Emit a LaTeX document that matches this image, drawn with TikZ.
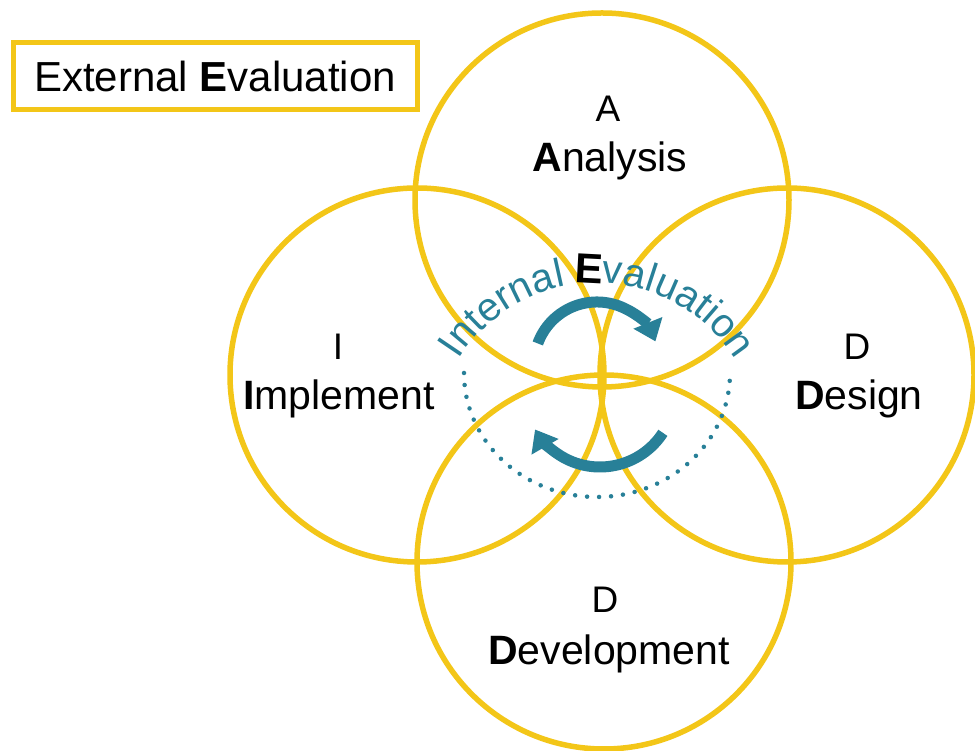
\documentclass[tikz,border=0pt]{standalone}
\usepackage{fontspec}
\setmainfont{Liberation Sans}
\usetikzlibrary{arrows.meta,decorations.text}
\definecolor{gold}{RGB}{243,198,24}
\definecolor{tealc}{RGB}{40,128,152}
\begin{document}
\begin{tikzpicture}[x=1pt,y=1pt,
  ring/.style={circle, draw=gold, line width=5.5pt, minimum size=374pt, inner sep=0pt},
  letter/.style={anchor=base, font=\fontsize{37}{44}\selectfont, inner sep=0pt},
  word/.style={anchor=base, font=\fontsize{41}{49}\selectfont, inner sep=0pt},
  cyc/.style={draw=tealc, line width=11pt, -{Triangle[length=20pt,width=30pt]}},
  dots/.style={draw=tealc, line width=4.5pt, line cap=round, dash pattern=on 0pt off 12pt}]
\useasboundingbox (0,0) rectangle (975,751);
\fill[white] (0,0) rectangle (975,751);
% four circles
\node[ring] (top) at (602,551) {};
\node[ring] (bot) at (604,189) {};
\node[ring] (lft) at (417,376) {};
\node[ring] (rgt) at (787,376) {};
% labels
\node[letter] (la) at (608,629) {A};
\node[word]   (wa) at (610,579) {\textbf{A}nalysis};
\node[letter] (li) at (338,391) {I};
\node[word]   (wi) at (339,341) {\textbf{I}mplement};
\node[letter] (lr) at (857,391) {D};
\node[word]   (wr) at (859,341) {\textbf{D}esign};
\node[letter] (lb) at (605,138) {D};
\node[word]   (wb) at (609,86) {\textbf{D}evelopment};
% external evaluation box
\node[draw=gold, line width=5pt, minimum width=404pt, minimum height=67pt, inner sep=0pt,
      font=\fontsize{42}{50}\selectfont] (ext) at (215,674.5) {External \textbf{E}valuation};
% internal evaluation
\coordinate (ic) at (597,305);
\coordinate (dc) at (597,378);
\coordinate (ta) at (597,386);
\coordinate (ba) at (600,359);
\path[decorate, decoration={text along path, text align=right,
  text={|\fontsize{40}{48}\selectfont\color{tealc}|Internal}}]
  ([shift={(170:163pt)}]ic) arc[start angle=170, end angle=101, radius=163pt];
\node[anchor=base, inner sep=0pt, rotate=-3, font=\fontsize{42}{50}\selectfont\bfseries] (ie)
  at ([shift={(93:163pt)}]ic) {E};
\path[decorate, decoration={text along path, text align=left,
  text={|\fontsize{40}{48}\selectfont\color{tealc}|valuation}}]
  ([shift={(88.3:163pt)}]ic) arc[start angle=88.3, end angle=5, radius=163pt];
\draw[dots] ([shift={(180:133pt and 124pt)}]dc) arc[start angle=180, end angle=360, x radius=133pt, y radius=124pt];
\draw[cyc] ([shift={(160:63pt)}]ta) arc[start angle=160, end angle=22, radius=63pt];
\draw[cyc] ([shift={(-33:75pt)}]ba) arc[start angle=-33, end angle=-150, radius=75pt];
\end{tikzpicture}
\end{document}
